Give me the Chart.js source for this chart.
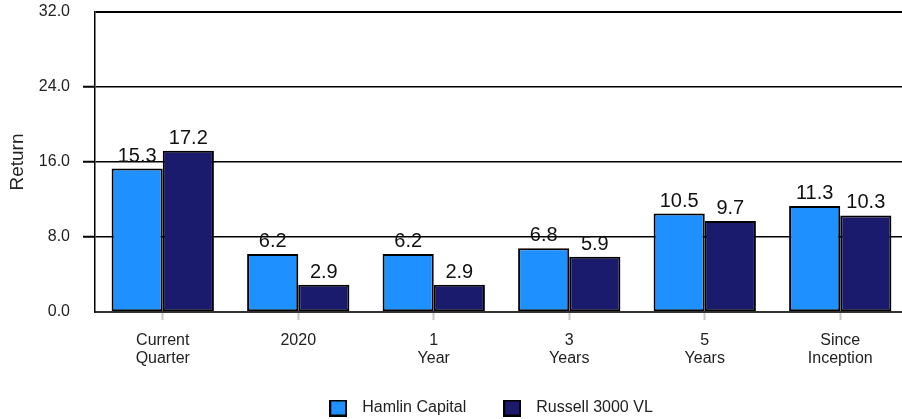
<!DOCTYPE html>
<html>
<head>
<meta charset="utf-8">
<script src="https://cdn.jsdelivr.net/npm/chart.js@4.4.1/dist/chart.umd.min.js"></script>
<style>
  html, body { margin: 0; padding: 0; overflow: hidden; background: #fff; }
  #wrap { width: 908px; height: 419px; }
</style>
</head>
<body>
<div id="wrap"><canvas id="c" width="908" height="419"></canvas></div>
<script>
const categories = [['Current', 'Quarter'], ['2020'], ['1', 'Year'], ['3', 'Years'], ['5', 'Years'], ['Since', 'Inception']];
const seriesNames = ['Hamlin Capital', 'Russell 3000 VL'];
const hamlinValues = [15.3, 6.2, 6.2, 6.8, 10.5, 11.3];
const russellValues = [17.2, 2.9, 2.9, 5.9, 9.7, 10.3];
const yTicks = [0, 8, 16, 24, 32];
const seriesColors = ['#1E90FF', '#1B1B6E'];

const FONT = "'Liberation Sans', Arial, sans-serif";

function swatch(color) {
  const c = document.createElement('canvas');
  c.width = 18; c.height = 17;
  const g = c.getContext('2d');
  g.fillStyle = color;
  g.fillRect(0, 0, 18, 17);
  g.strokeStyle = '#000';
  g.lineWidth = 2;
  g.strokeRect(1, 1, 16, 15);
  return c;
}
const swatches = seriesColors.map(swatch);

const valueLabels = {
  id: 'valueLabels',
  afterDatasetsDraw(chart) {
    const ctx = chart.ctx;
    ctx.save();
    ctx.font = '20px ' + FONT;
    ctx.fillStyle = '#111';
    ctx.textAlign = 'center';
    ctx.textBaseline = 'alphabetic';
    chart.data.datasets.forEach((ds, i) => {
      const meta = chart.getDatasetMeta(i);
      meta.data.forEach((bar, j) => {
        ctx.fillText(ds.data[j].toFixed(1), bar.x, bar.y - 7);
      });
    });
    ctx.restore();
  }
};

const legendShift = {
  id: 'legendShift',
  afterLayout(chart) {
    const l = chart.legend;
    if (l) { l.left -= 14; l.right -= 14; }
  }
};

new Chart(document.getElementById('c'), {
  type: 'bar',
  data: {
    labels: categories,
    datasets: [
      { label: seriesNames[0], data: hamlinValues, backgroundColor: seriesColors[0], borderColor: '#000', borderWidth: 2 },
      { label: seriesNames[1], data: russellValues, backgroundColor: seriesColors[1], borderColor: '#000', borderWidth: 2 }
    ]
  },
  options: {
    responsive: false,
    animation: false,
    layout: { padding: { top: 12, right: 0, bottom: -7, left: 0 } },
    datasets: { bar: { categoryPercentage: 0.755, barPercentage: 1.0, borderSkipped: false } },
    plugins: {
      tooltip: { enabled: false },
      legend: {
        position: 'bottom',
        fullSize: false,
        labels: {
          usePointStyle: true,
          pointStyleWidth: 32,
          padding: 30,
          color: '#222',
          font: { family: FONT, size: 16 },
          generateLabels(chart) {
            const items = Chart.defaults.plugins.legend.labels.generateLabels(chart);
            items.forEach((it) => { it.pointStyle = swatches[it.datasetIndex]; });
            return items;
          }
        }
      }
    },
    scales: {
      x: {
        afterFit(scale) { scale.height = 58; },
        grid: { offset: false, drawOnChartArea: false, drawTicks: true, tickLength: 8, tickColor: '#c8c8c8', tickWidth: 2 },
        border: { display: true, color: '#333', width: 2 },
        ticks: { color: '#222', font: { family: FONT, size: 16, lineHeight: 1.125 }, padding: 12, maxRotation: 0, autoSkip: false }
      },
      y: {
        min: 0, max: 32,
        afterBuildTicks(scale) { scale.ticks = yTicks.map(v => ({ value: v })); },
        afterFit(scale) { scale.width = 95; scale.paddingTop = 0; scale.paddingBottom = 0; },
        title: { display: true, text: 'Return', color: '#222', font: { family: FONT, size: 19 }, padding: { top: 6, bottom: 0 } },
        grid: {
          color: '#000',
          lineWidth: (c) => (c.tick && c.tick.value === 32 ? 2 : 1.5),
          tickLength: 12,
          tickColor: (c) => (c.tick && (c.tick.value === 0 || c.tick.value === 32) ? 'rgba(0,0,0,0)' : '#000'),
          tickWidth: 2
        },
        border: { display: true, color: '#000', width: 1.5 },
        ticks: { color: '#222', font: { family: FONT, size: 16 }, padding: 13, callback: (v) => Number(v).toFixed(1) }
      }
    }
  },
  plugins: [valueLabels, legendShift]
});
</script>
</body>
</html>
